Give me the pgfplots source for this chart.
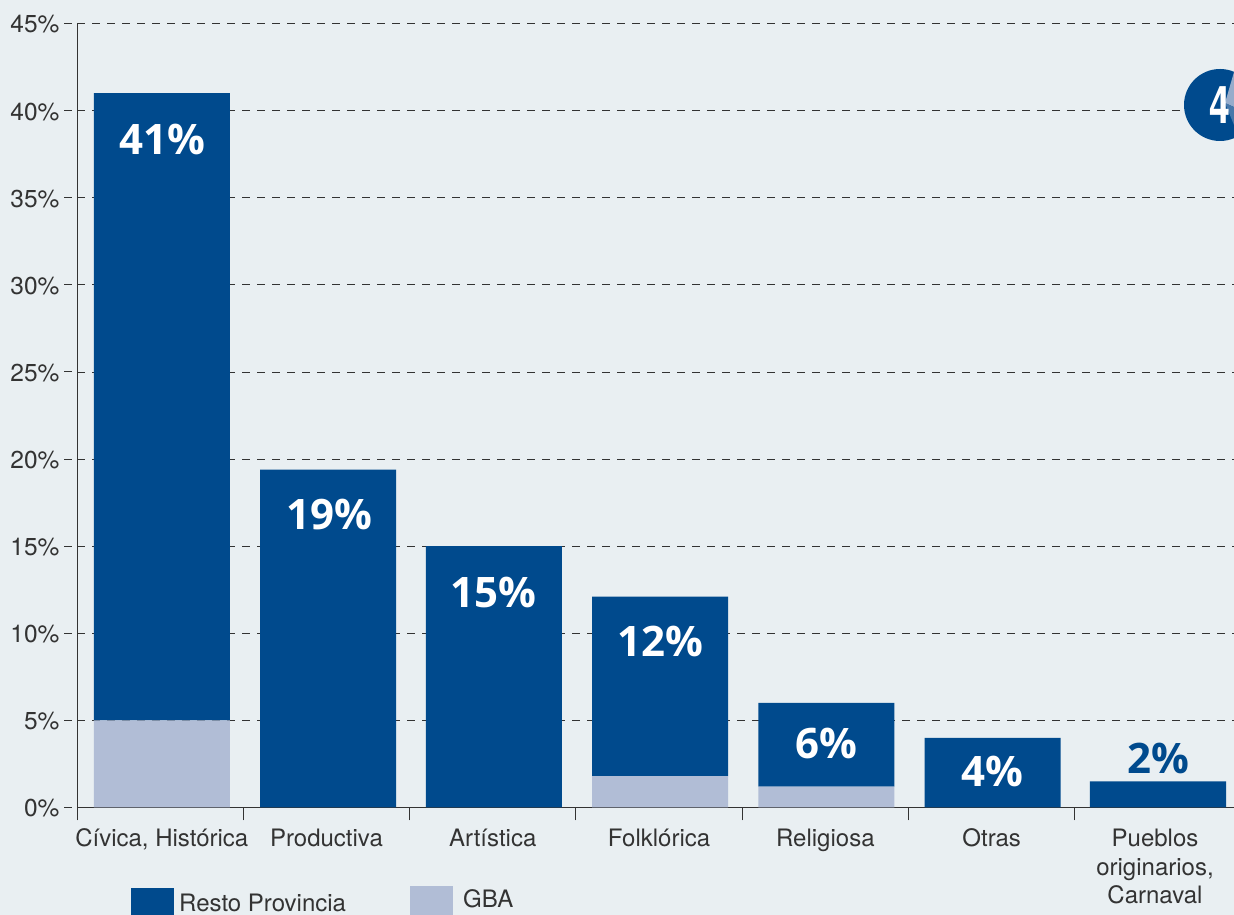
\documentclass[border=0pt]{standalone}
\usepackage{fontspec}
\usepackage{pgfplots}
\pgfplotsset{compat=1.18}
\setmainfont{TeX Gyre Heros}
\newfontfamily\boldlab{Open Sans}
\definecolor{bg}{HTML}{E9EFF2}
\definecolor{navy}{HTML}{004A8D}
\definecolor{gba}{HTML}{B1BDD6}
\definecolor{txt}{HTML}{333333}
\begin{document}
\begin{tikzpicture}[x=1pt,y=1pt]
\path[use as bounding box] (0,0) rectangle (1234,915);
\clip (0,0) rectangle (1234,915);
\fill[bg] (0,0) rectangle (1234,915);
\begin{axis}[
  at={(77pt,107.5pt)}, anchor=south west,
  scale only axis, width=1157pt, height=784pt,
  xmin=0, xmax=6.957, ymin=0, ymax=45,
  ybar stacked, bar width=136pt,
  axis x line=bottom, axis y line=left,
  axis line style={-, draw=txt, line width=1pt},
  xtick={0,1,2,3,4,5,6}, xticklabels={},
  extra x ticks={0.51,1.5,2.5,3.5,4.5,5.5,6.482},
  extra x tick labels={{Cívica, Histórica},Productiva,Artística,Folklórica,Religiosa,Otras,{Pueblos\\originarios,\\Carnaval}},
  extra x tick style={major tick length=0pt, xticklabel style={anchor=north, yshift=-18pt}},
  x tick label style={font=\fontsize{24}{28.5}\selectfont, text=txt, align=center},
  ytick={0,5,10,15,20,25,30,35,40,45},
  yticklabels={0\%,5\%,10\%,15\%,20\%,25\%,30\%,35\%,40\%,45\%},
  y tick label style={font=\fontsize{24.5}{27}\selectfont, text=txt, anchor=east, xshift=-1pt, yshift=-1pt},
  ymajorgrids, grid style={draw=txt, dash pattern=on 8pt off 7pt, line width=0.8pt},
  tick style={draw=txt, line width=1pt},
  major tick length=13pt,
  ytick style={dash pattern=on 8pt off 100pt},
  tick align=outside, clip=false,
]
\addplot[fill=gba, draw=none] coordinates {(0.51,5) (1.51,0) (2.506,0) (3.506,1.8) (4.506,1.2) (5.506,0) (6.5,0)};
\addplot[fill=navy, draw=none] coordinates {(0.51,36) (1.51,19.4) (2.506,15) (3.506,10.3) (4.506,4.8) (5.506,4) (6.5,1.5)};
\coordinate (a) at (axis cs:0.516,38.32);
\coordinate (b) at (axis cs:1.516,16.79);
\coordinate (c) at (axis cs:2.506,12.33);
\coordinate (d) at (axis cs:3.506,9.54);
\coordinate (e) at (axis cs:4.506,3.67);
\coordinate (f) at (axis cs:5.506,2.06);
\coordinate (g) at (axis cs:6.5,2.81);
\end{axis}
\tikzset{vl/.style={font=\boldlab\bfseries\fontsize{42}{42}\selectfont}}
\node[vl, text=white] at (a) {41\%};
\node[vl, text=white] at (b) {19\%};
\node[vl, text=white] at (c) {15\%};
\node[vl, text=white] at (d) {12\%};
\node[vl, text=white] at (e) {6\%};
\node[vl, text=white] at (f) {4\%};
\node[vl, text=navy] at (g) {2\%};
% legend
\fill[navy] (131,0) rectangle (174,27);
\node[anchor=base west, text=txt, font=\fontsize{24}{27}\selectfont, inner sep=0pt] at (179,3.5) {Resto Provincia};
\fill[gba] (410,0) rectangle (453,29);
\node[anchor=base west, text=txt, font=\fontsize{24}{27}\selectfont, inner sep=0pt] at (463,7) {GBA};
% corner badge
\fill[navy] (1220,810) circle (36);
\fill[gba!85!navy] (1234,843) -- (1225,812) -- (1234,808) -- cycle;
\fill[navy!60!gba] (1234,808) -- (1225,812) -- (1234,790) -- cycle;
\node[text=white, font=\fontsize{52}{52}\selectfont\bfseries, inner sep=0pt, xscale=0.72] at (1219.5,810) {4};
\end{tikzpicture}
\end{document}
